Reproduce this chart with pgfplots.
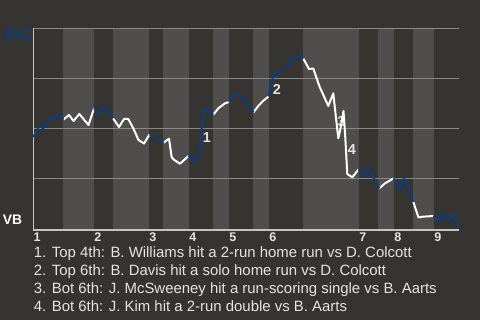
\documentclass[border=0pt]{standalone}
\usepackage{pgfplots}
\pgfplotsset{compat=1.18}
\usepackage{pgfplotstable}
\usepackage{fontspec}
\setmainfont{Liberation Sans}
\definecolor{bg}{HTML}{363430}
\definecolor{band}{HTML}{4F4E4C}
\definecolor{gridc}{HTML}{8A8886}
\definecolor{axc}{HTML}{C4C4C2}
\definecolor{tacblue}{HTML}{0D3C80}
\definecolor{txt}{HTML}{E4E4E2}

% win probability (TAC, %) while TAC bats (top halves)
\pgfplotstableread{
x wp
33.3 45.65
39.3 51.15
43.3 50
49.3 54.65
53.3 54.9
59 57
63.5 54.4
nan nan
94 59.9
99.3 57.15
104.3 61.15
108.3 59.15
113 55
nan nan
149.5 46.9
154.3 45.8
158 44.65
161.7 43.8
163.5 42.8
nan nan
188.5 36.15
193.3 33.65
196.7 35.3
200 40.65
204 59.9
208.3 58.8
213.3 56.8
nan nan
229 63.15
234.3 67.15
238.3 67.15
242.3 64.15
246.7 63.3
253.5 58
nan nan
268.5 65.9
274 78.3
278.3 76.65
286.7 81.15
293.3 85.15
297 86
300 86.15
303.3 84.9
nan nan
358.5 29.4
363.5 25.8
368.5 30.4
373.3 25.65
379.3 20
nan nan
393.5 24.9
399.2 19.4
404 25.15
413.3 13.15
nan nan
433.5 6.15
438.7 3.4
444.2 7.8
448.7 3.4
452.8 7.4
459 0
}\topdata

% win probability while VB bats (bottom halves)
\pgfplotstableread{
x wp
63.5 54.4
69 56.65
73.5 53.65
79.3 57.15
88.5 51.65
94 59.9
nan nan
113 55
119 50.65
124 54.65
128.3 54.65
133.3 50
138.5 44.15
144 42.4
149.5 46.9
nan nan
163.5 42.8
169 44.8
171.7 35.5
174.3 34.15
180 32.3
188.5 36.15
nan nan
213.3 56.8
218.3 60
225 62.5
229 63.15
nan nan
253.5 58
258.3 61.15
263 63.65
268.5 65.9
nan nan
303.3 84.9
309 79.65
313.3 79.9
319.3 71.15
328.3 61.15
333.3 67.5
336 55.15
338.3 45
340 48.65
343.5 58.65
345.2 46.15
347.3 27.15
352.3 25.5
358.5 29.4
nan nan
379.3 20
385 22.5
393.5 24.9
nan nan
413.3 13.15
418.5 5.4
422.7 5.8
433.5 6.15
}\botdata

\begin{document}
\begin{tikzpicture}
\begin{scope}[x=0.75pt,y=-0.75pt]
\fill[bg] (0,0) rectangle (480,320);
\end{scope}

\begin{axis}[
  at={(24.975pt,-172.5pt)}, anchor=south west,
  scale only axis, width=319.275pt, height=151.275pt,
  xmin=33.3, xmax=459, ymin=-0.85, ymax=100,
  clip=false,
  axis line style={draw=none},
  major tick length=0pt,
  ytick=\empty,
  xtick={33.3,94,149,189,229,269,359,394,434},
  xticklabels={1,2,3,4,5,6,7,8,9},
  xticklabel style={anchor=base west, inner sep=0pt, yshift=-8.9pt,
    font=\bfseries\fontsize{9.4}{11}\selectfont, text=txt},
  unbounded coords=jump,
]
% light bands = bottom halves of innings
\fill[band] (axis cs:63,-0.85) rectangle (axis cs:94,100);
\fill[band] (axis cs:113,-0.85) rectangle (axis cs:149,100);
\fill[band] (axis cs:163,-0.85) rectangle (axis cs:189,100);
\fill[band] (axis cs:213,-0.85) rectangle (axis cs:229,100);
\fill[band] (axis cs:253,-0.85) rectangle (axis cs:269,100);
\fill[band] (axis cs:303,-0.85) rectangle (axis cs:359,100);
\fill[band] (axis cs:378,-0.85) rectangle (axis cs:394,100);
\fill[band] (axis cs:413,-0.85) rectangle (axis cs:434,100);
% grid
\draw[gridc, line width=0.8pt] (axis cs:33.3,25) -- (axis cs:459,25);
\draw[gridc, line width=0.8pt] (axis cs:33.3,50) -- (axis cs:459,50);
\draw[gridc, line width=0.8pt] (axis cs:33.3,75) -- (axis cs:459,75);
\draw[gridc, line width=0.8pt] (axis cs:33.3,100) -- (axis cs:459,100);
\draw[axc, line width=0.8pt] (axis cs:33.3,-0.85) -- (axis cs:459,-0.85);
\draw[axc, line width=0.8pt] (axis cs:33.3,-0.85) -- (axis cs:33.3,100);

\addplot[white, line width=1.5pt, line join=round] table[x=x, y=wp] {\botdata};
\addplot[tacblue, line width=1.5pt, line join=round] table[x=x, y=wp] {\topdata};

\node[font=\bfseries\fontsize{10.8}{12}\selectfont, text=white, opacity=0.85] at (axis cs:207,45.15) {1};
\node[font=\bfseries\fontsize{10.8}{12}\selectfont, text=white, opacity=0.85] at (axis cs:277,69.4) {2};
\node[font=\bfseries\fontsize{10.8}{12}\selectfont, text=white, opacity=0.75] at (axis cs:341.5,53.4) {3};
\node[font=\bfseries\fontsize{10.8}{12}\selectfont, text=white, opacity=0.85] at (axis cs:352,39.4) {4};
\end{axis}

\begin{scope}[x=0.75pt,y=-0.75pt]
\node[anchor=base west, inner sep=0pt, font=\bfseries\fontsize{11.4}{13}\selectfont, text=tacblue] at (2.5,39.5) {TAC};
\node[anchor=base west, inner sep=0pt, font=\bfseries\fontsize{10.4}{12}\selectfont, text=white] at (2.7,225) {VB};
\begin{scope}[every node/.style={anchor=base west, inner sep=0pt, font=\fontsize{11.2}{13}\selectfont, text=txt}]
\node at (33.6,257.7) {1. Top 4th: B. Williams hit a 2-run home run vs D. Colcott};
\node at (33.6,275.7) {2. Top 6th: B. Davis hit a solo home run vs D. Colcott};
\node at (33.6,293.7) {3. Bot 6th: J. McSweeney hit a run-scoring single vs B. Aarts};
\node at (33.6,312) {4. Bot 6th: J. Kim hit a 2-run double vs B. Aarts};
\end{scope}
\pgfresetboundingbox
\path[use as bounding box] (0,0) rectangle (480,320);
\end{scope}
\end{tikzpicture}
\end{document}
